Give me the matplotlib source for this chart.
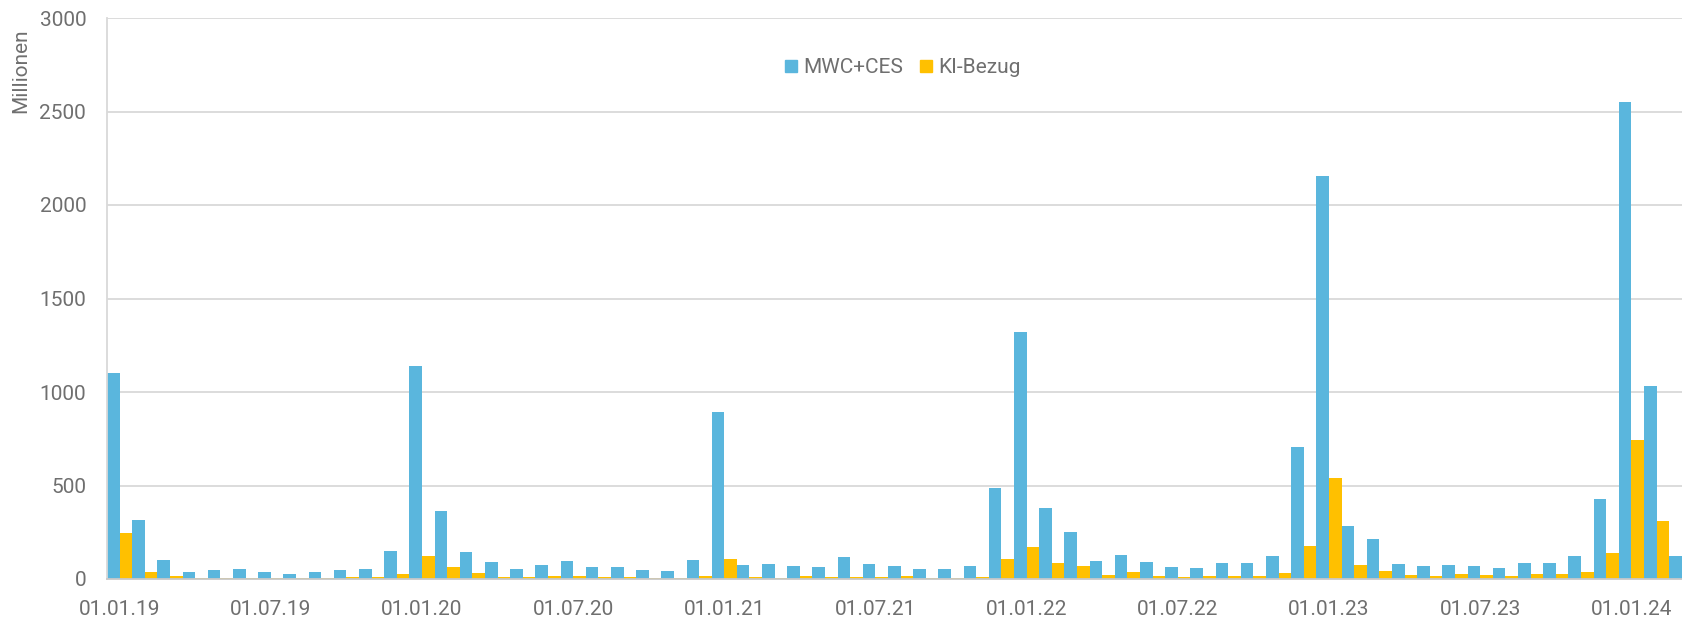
import matplotlib
matplotlib.use("Agg")
import matplotlib.pyplot as plt
import matplotlib.patches as patches
import numpy as np
import pandas as pd

plt.rcParams['font.family'] = ['Roboto', 'DejaVu Sans']

# monthly values, Jan 2019 - Mar 2024 (Millionen)
months = pd.date_range("2019-01-01", periods=63, freq="MS")
mwc_ces = [1100, 314, 100, 39, 46, 54, 39, 29, 36, 46, 54, 148,
           1140, 363, 145, 89, 54, 77, 95, 62, 66, 48, 45, 102,
           895, 75, 80, 68, 64, 118, 80, 68, 54, 54, 70, 488,
           1320, 382, 252, 96, 129, 91, 64, 61, 88, 88, 121, 707,
           2155, 282, 214, 80, 68, 73, 68, 61, 86, 88, 125, 429,
           2550, 1034, 125]
ki_bezug = [245, 36, 18, 5, 8, 8, 5, 4, 4, 9, 10, 29,
            125, 62, 32, 11, 11, 16, 16, 11, 9, 5, 5, 16,
            107, 11, 8, 16, 12, 12, 12, 16, 5, 8, 12, 105,
            173, 86, 70, 21, 36, 18, 11, 16, 18, 18, 32, 177,
            539, 73, 43, 21, 18, 27, 21, 18, 27, 29, 39, 139,
            743, 311, 39]
series_names = ["MWC+CES", "KI-Bezug"]
y_ticks = [0, 500, 1000, 1500, 2000, 2500, 3000]

blue = "#5AB6DD"
gold = "#FFC000"
text_color = "#6F6F6F"
grid_color = "#D9D9D9"

fig = plt.figure(figsize=(16.83, 6.17), dpi=100)
ax = fig.add_axes([107 / 1683, 38 / 617, 1576 / 1683, 561 / 617])

x = np.arange(len(months))
ax.bar(x - 0.25, mwc_ces, width=0.5, color=blue, zorder=2)
ax.bar(x + 0.25, ki_bezug, width=0.5, color=gold, zorder=2)

ax.set_xlim(-0.5, 62.05)
ax.set_ylim(0, 3000)
ax.set_yticks(y_ticks)
ax.set_yticklabels([str(v) for v in y_ticks])

tick_pos = [i for i, m in enumerate(months) if m.month in (1, 7)]
ax.set_xticks(tick_pos)
ax.set_xticklabels([months[i].strftime("%d.%m.%y") for i in tick_pos])

ax.tick_params(axis="both", length=0, labelsize=15, colors=text_color, pad=15)
ax.yaxis.grid(True, color=grid_color, lw=1.3)
ax.set_axisbelow(True)
for s in ["top", "right"]:
    ax.spines[s].set_visible(False)
ax.spines["left"].set_color(grid_color)
ax.spines["left"].set_linewidth(1.3)
ax.spines["bottom"].set_color("#C8C8C8")
ax.spines["bottom"].set_linewidth(1.3)

ax.set_ylabel("Millionen", loc="top", fontsize=15, color=text_color)
ax.yaxis.set_label_coords(-0.049, 0.982)

handles = [patches.Rectangle((0, 0), 1, 1, color=blue),
           patches.Rectangle((0, 0), 1, 1, color=gold)]
ax.legend(handles, series_names, loc="center", bbox_to_anchor=(0.505, 0.911),
          ncol=2, frameon=False, fontsize=15, labelcolor=text_color,
          handlelength=0.55, handleheight=0.55, handletextpad=0.3,
          columnspacing=0.85)

plt.savefig("out.png", dpi=100)
